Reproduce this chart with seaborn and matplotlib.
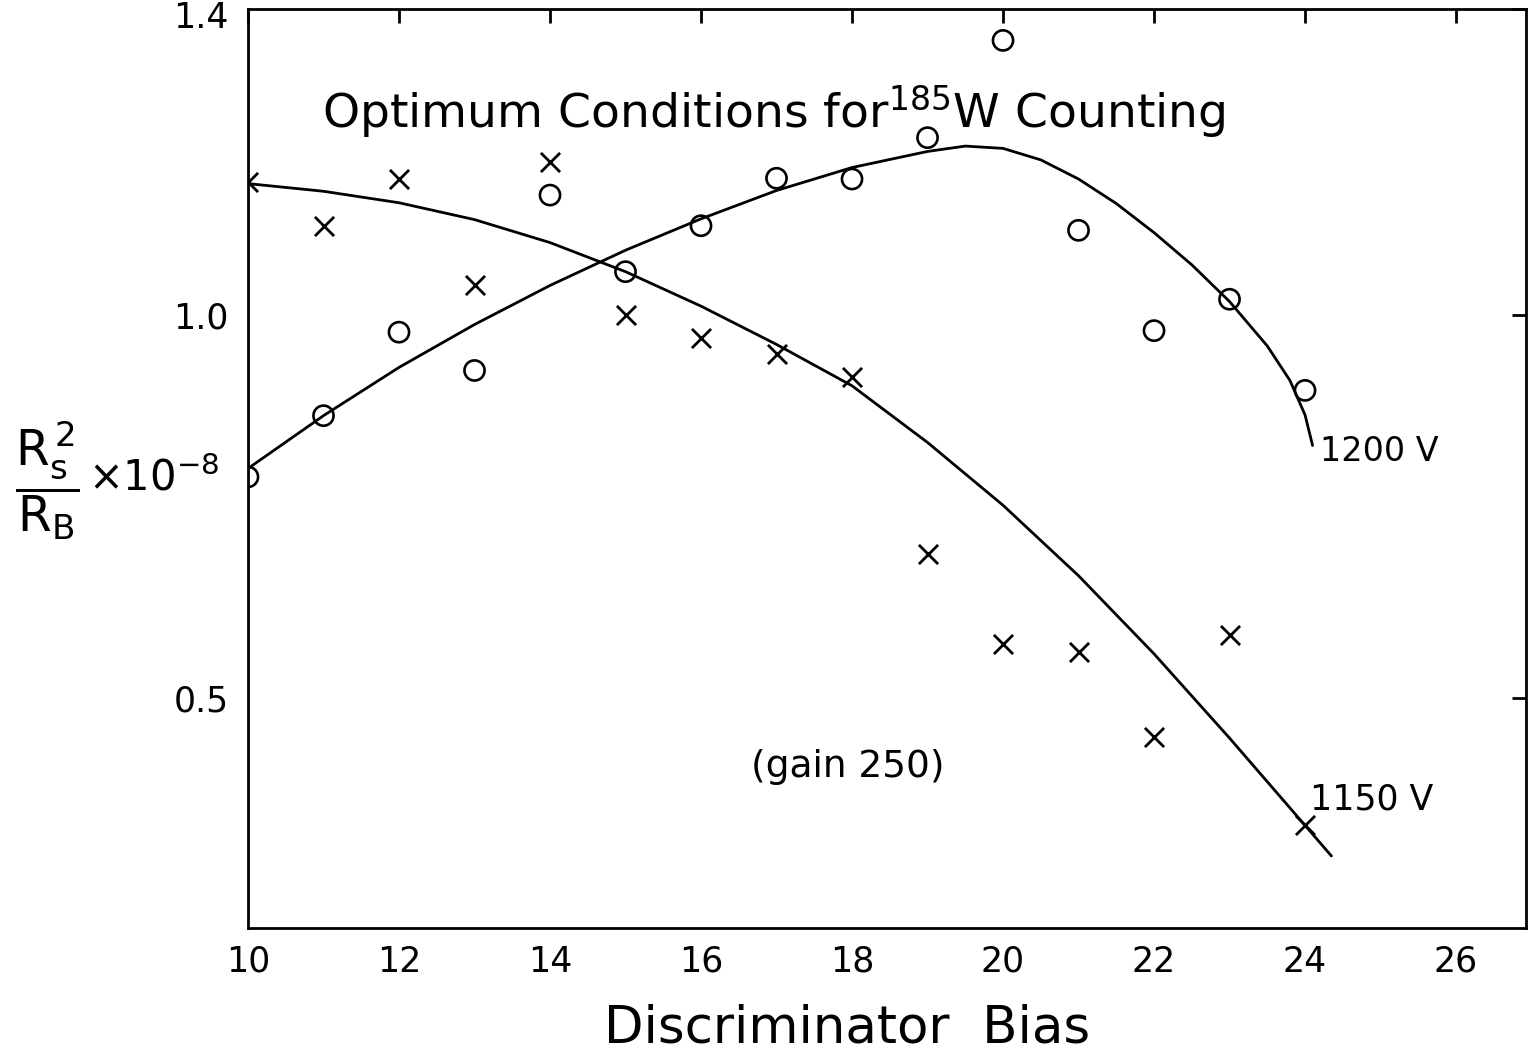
import numpy as np
import pandas as pd
import matplotlib
matplotlib.use("Agg")
import matplotlib.pyplot as plt
import matplotlib.transforms as mtransforms
import seaborn as sns

# ---- data ----
bias = [10, 11, 12, 13, 14, 15, 16, 17, 18, 19, 20, 21, 22, 23, 24]
ratio_1200 = [0.789, 0.869, 0.978, 0.928, 1.157, 1.057, 1.117, 1.179, 1.178,
              1.232, 1.359, 1.111, 0.980, 1.021, 0.902]
ratio_1150 = [1.174, 1.117, 1.178, 1.039, 1.200, 1.000, 0.970, 0.950, 0.919,
              0.689, 0.571, 0.561, 0.450, 0.582, 0.334]

curve_1200_x = [10.0, 11.0, 12.0, 13.0, 14.0, 15.0, 16.0, 17.0, 18.0, 19.0,
                19.5, 20.0, 20.5, 21.0, 21.5, 22.0, 22.5, 23.0, 23.5, 23.8,
                24.0, 24.1]
curve_1200_y = [0.800, 0.869, 0.932, 0.988, 1.039, 1.085, 1.126, 1.163, 1.193, 1.214,
                1.221, 1.218, 1.203, 1.178, 1.146, 1.108, 1.066, 1.018, 0.960, 0.915,
                0.870, 0.830]

curve_1150_x = [10.0, 11.0, 12.0, 13.0, 14.0, 15.0, 16.0, 17.0, 18.0, 19.0,
                20.0, 21.0, 22.0, 23.0, 24.0, 24.35]
curve_1150_y = [1.172, 1.162, 1.147, 1.125, 1.095, 1.057, 1.012, 0.962, 0.908, 0.834,
                0.752, 0.660, 0.558, 0.448, 0.334, 0.294]

x_ticks = [10, 12, 14, 16, 18, 20, 22, 24, 26]
y_ticks = [0.5, 1.0, 1.4]
y_ticklabels = ["0.5", "1.0", "1.4"]

sns.set_theme(style="white")
plt.rcParams['font.family'] = ['DejaVu Sans']
plt.rcParams['mathtext.fontset'] = 'dejavusans'
for k in ["text.color", "axes.labelcolor", "xtick.color", "ytick.color", "axes.edgecolor"]:
    plt.rcParams[k] = "black"

fig = plt.figure(figsize=(15.28, 10.54), dpi=100)
ax = fig.add_axes([248/1528, 126/1054, (1525.5-248)/1528, (928-9)/1054])

pts = pd.DataFrame({"bias": bias, "r1200": ratio_1200, "r1150": ratio_1150})
c1200 = pd.DataFrame({"x": curve_1200_x, "y": curve_1200_y})
c1150 = pd.DataFrame({"x": curve_1150_x, "y": curve_1150_y})

sns.lineplot(data=c1200, x="x", y="y", sort=False, color="black", lw=2.0, ax=ax)
sns.lineplot(data=c1150, x="x", y="y", sort=False, color="black", lw=2.0, ax=ax)

sns.scatterplot(data=pts, x="bias", y="r1200", marker="o", s=210,
                facecolors="none", edgecolor="black", linewidth=1.9, ax=ax, zorder=3)
sns.scatterplot(data=pts, x="bias", y="r1150", marker="x", s=190,
                color="black", linewidth=2.0, ax=ax, zorder=3)

ax.set_xlim(10, 26.92)
ax.set_ylim(0.2, 1.4)
ax.set_xticks(x_ticks)
ax.set_xticklabels([str(t) for t in x_ticks])
ax.set_yticks(y_ticks)
ax.set_yticklabels(y_ticklabels)
ax.tick_params(axis="both", direction="in", length=10, width=2.0,
               top=True, right=True, labelsize=25, colors="black")
ax.tick_params(axis="x", pad=12)
ax.tick_params(axis="y", pad=14)
for sp in ax.spines.values():
    sp.set_linewidth(2.0)
    sp.set_color("black")

# nudge the top "1.4" label slightly down so it stays inside the figure
top_lbl = ax.get_yticklabels()[-1]
top_lbl.set_transform(top_lbl.get_transform() +
                      mtransforms.ScaledTranslation(0, -5/100, fig.dpi_scale_trans))

ax.set_xlabel("Discriminator  Bias", fontsize=37)
ax.xaxis.set_label_coords((847 - 248) / 1277.5, -0.082)
ax.set_ylabel("")

ax.text(10.98, 1.266, r"Optimum Conditions for$^{185}$W Counting",
        fontsize=34, ha="left", va="center")
ax.text(24.2, 0.822, "1200 V", fontsize=24, ha="left", va="center")
ax.text(24.07, 0.368, "1150 V", fontsize=25, ha="left", va="center")
ax.text(17.95, 0.41, "(gain 250)", fontsize=27, ha="center", va="center")

fig.text(47/1528, 1 - 481/1054,
         r"$\dfrac{\mathrm{R}_\mathrm{s}^{\,2}}{\mathrm{R}_\mathrm{B}}$",
         fontsize=35, ha="center", va="center")
fig.text(88/1528, 1 - 478/1054, r"$\times10^{-8}$",
         fontsize=30, ha="left", va="center")

fig.savefig("out.png", dpi=100)
